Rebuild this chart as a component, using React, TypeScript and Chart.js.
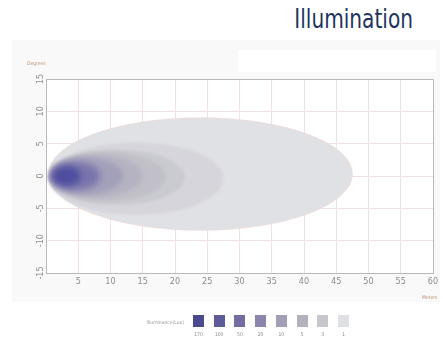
import React, { useEffect, useRef } from "react";
import { Chart, registerables } from "chart.js";

Chart.register(...registerables);

// Illuminance levels (lux) and the contour each one reaches
const LUX_LEVELS = [170, 100, 50, 20, 10, 5, 3, 1];
const REACH_M = [5.4, 8.4, 12, 15, 18.5, 21.5, 27.5, 47.5];
const START_M = [0.9, 0.8, 0.7, 0.6, 0.6, 0.5, 0.5, 0.4];
const HALF_WIDTH_DEG = [1.5, 2.2, 2.8, 3.3, 3.8, 4.3, 5.6, 8.7];
const CENTER_DEG = [0, 0, 0, 0, -0.1, -0.2, -0.4, 0.3];
const LUX_COLORS = [
  "#4b4a8e",
  "#5e5c98",
  "#716da1",
  "#8b86ad",
  "#a29eb6",
  "#b4b1bd",
  "#c8c6cc",
  "#dfe0e3",
];
const CHART_FILLS = [
  "#4f4d9f",
  "#7a76ad",
  "#a3a0ba",
  "#b5b3c2",
  "#c1c0c9",
  "#cacad1",
  "#d5d5db",
  "#e0e1e5",
];
const BLUR_PX = [3, 3, 2.5, 2, 1.5, 1, 0.8, 0.3];

const X_TICKS = [0, 5, 10, 15, 20, 25, 30, 35, 40, 45, 50, 55, 60];
const Y_TICKS = [-15, -10, -5, 0, 5, 10, 15];

const ellipsePlugin = {
  id: "lightEllipses",
  beforeDraw(chart: any) {
    const { ctx, chartArea } = chart;
    ctx.save();
    ctx.fillStyle = "#ffffff";
    ctx.fillRect(chartArea.left, chartArea.top, chartArea.right - chartArea.left, chartArea.bottom - chartArea.top);
    ctx.restore();
  },
  beforeDatasetsDraw(chart: any) {
    const { ctx, chartArea, scales } = chart;
    const xs = scales.x;
    const ys = scales.y;
    ctx.save();
    ctx.beginPath();
    ctx.rect(chartArea.left, chartArea.top, chartArea.right - chartArea.left, chartArea.bottom - chartArea.top);
    ctx.clip();
    for (let i = LUX_LEVELS.length - 1; i >= 0; i--) {
      const x0 = xs.getPixelForValue(START_M[i]);
      const x1 = xs.getPixelForValue(REACH_M[i]);
      const yc = ys.getPixelForValue(CENTER_DEG[i]);
      const yt = ys.getPixelForValue(CENTER_DEG[i] + HALF_WIDTH_DEG[i]);
      const rx = (x1 - x0) / 2;
      const ry = Math.abs(yc - yt);
      ctx.filter = `blur(${BLUR_PX[i]}px)`;
      ctx.beginPath();
      ctx.ellipse(x0 + rx, yc, rx, ry, 0, 0, Math.PI * 2);
      ctx.fillStyle = CHART_FILLS[i];
      ctx.fill();
      if (i === LUX_LEVELS.length - 1) {
        ctx.filter = "none";
        ctx.strokeStyle = "rgba(236,214,206,0.6)";
        ctx.lineWidth = 1;
        ctx.stroke();
      }
    }
    ctx.filter = "none";
    ctx.restore();
  },
  afterDraw(chart: any) {
    const { ctx, chartArea, scales } = chart;
    ctx.save();
    ctx.strokeStyle = "#b9b9b9";
    ctx.lineWidth = 1;
    ctx.beginPath();
    ctx.moveTo(chartArea.left, chartArea.top + 0.5);
    ctx.lineTo(chartArea.right + 0.5, chartArea.top + 0.5);
    ctx.lineTo(chartArea.right + 0.5, chartArea.bottom);
    ctx.stroke();
    // rotated y tick labels
    ctx.fillStyle = "#8c8c8c";
    ctx.font = "9px 'DejaVu Sans Condensed', sans-serif";
    ctx.textAlign = "center";
    ctx.textBaseline = "middle";
    for (const v of Y_TICKS) {
      const y = scales.y.getPixelForValue(v);
      ctx.save();
      ctx.translate(chartArea.left - 5, y);
      ctx.rotate(-Math.PI / 2);
      ctx.fillText(String(v), 0, 0);
      ctx.restore();
    }
    ctx.restore();
  },
};

function App() {
  const ref = useRef<HTMLCanvasElement | null>(null);
  useEffect(() => {
    if (!ref.current) return;
    const chart = new Chart(ref.current, {
      type: "scatter",
      data: {
        datasets: [
          {
            label: "Illuminance",
            data: LUX_LEVELS.map((_, i) => ({ x: REACH_M[i], y: CENTER_DEG[i] })),
            pointRadius: 0,
            showLine: false,
          },
        ],
      },
      options: {
        animation: false,
        responsive: false,
        maintainAspectRatio: false,
        layout: { padding: { left: 0, right: 10, top: 79, bottom: 50 } },
        plugins: { legend: { display: false }, tooltip: { enabled: false } },
        scales: {
          x: {
            type: "linear",
            min: 0,
            max: 60,
            afterBuildTicks: (s: any) => {
              s.ticks = X_TICKS.map((v) => ({ value: v }));
            },
            afterFit: (s: any) => {
              s.height = 27;
            },
            ticks: {
              autoSkip: false,
              maxRotation: 0,
              padding: 3,
              color: "#8c8c8c",
              font: { size: 9, family: "'DejaVu Sans Condensed', sans-serif" },
              callback: (v: any) => (v === 0 ? "" : String(v)),
            },
            grid: { color: "#f0e2e2", drawTicks: false },
            border: { color: "#b9b9b9" },
          },
          y: {
            type: "linear",
            min: -15,
            max: 15,
            afterBuildTicks: (s: any) => {
              s.ticks = Y_TICKS.map((v) => ({ value: v }));
            },
            afterFit: (s: any) => {
              s.width = 46;
            },
            ticks: { display: false },
            grid: { color: "#f0e2e2", drawTicks: false },
            border: { color: "#b9b9b9" },
          },
        },
      },
      plugins: [ellipsePlugin],
    });
    return () => chart.destroy();
  }, []);

  const tiny: React.CSSProperties = {
    position: "absolute",
    fontFamily: "'DejaVu Sans Condensed', sans-serif",
    fontSize: 5,
    lineHeight: "6px",
    whiteSpace: "nowrap",
  };

  return (
    <div
      style={{
        position: "fixed",
        left: 0,
        top: 0,
        width: 443,
        height: 350,
        background: "#ffffff",
        overflow: "hidden",
      }}
    >
      <div
        style={{
          position: "absolute",
          left: 12,
          top: 40,
          width: 428,
          height: 262,
          background: "#f9f9f9",
        }}
      />
      <div
        style={{
          position: "absolute",
          left: 238,
          top: 50,
          width: 198,
          height: 22,
          background: "#ffffff",
        }}
      />
      <div
        style={{
          position: "absolute",
          right: 30,
          top: 6,
          fontFamily: "'DejaVu Sans Condensed', sans-serif",
          fontSize: 26,
          lineHeight: "26px",
          transform: "scaleX(0.86)",
          transformOrigin: "right center",
          color: "#1d3461",
          whiteSpace: "nowrap",
        }}
      >
        Illumination
      </div>
      <canvas
        ref={ref}
        width={443}
        height={350}
        style={{ position: "absolute", left: 0, top: 0, width: 443, height: 350 }}
      />
      <div style={{ ...tiny, left: 27, top: 60, color: "#c0907c" }}>Degrees</div>
      <div style={{ ...tiny, left: 422, top: 294, color: "#c0907c" }}>Meters</div>
      <div style={{ ...tiny, right: 443 - 184, top: 319, color: "#9a9a9a" }}>Illuminance(Lux)</div>
      {LUX_LEVELS.map((lux, i) => (
        <React.Fragment key={lux}>
          <div
            style={{
              position: "absolute",
              left: 193 + i * 20.7,
              top: 315,
              width: 11,
              height: 12,
              background: LUX_COLORS[i],
            }}
          />
          <div
            style={{
              ...tiny,
              left: 193 + i * 20.7 - 5,
              width: 21,
              textAlign: "center",
              top: 331,
              color: "#8a8a8a",
            }}
          >
            {lux}
          </div>
        </React.Fragment>
      ))}
    </div>
  );
}

export default App;
